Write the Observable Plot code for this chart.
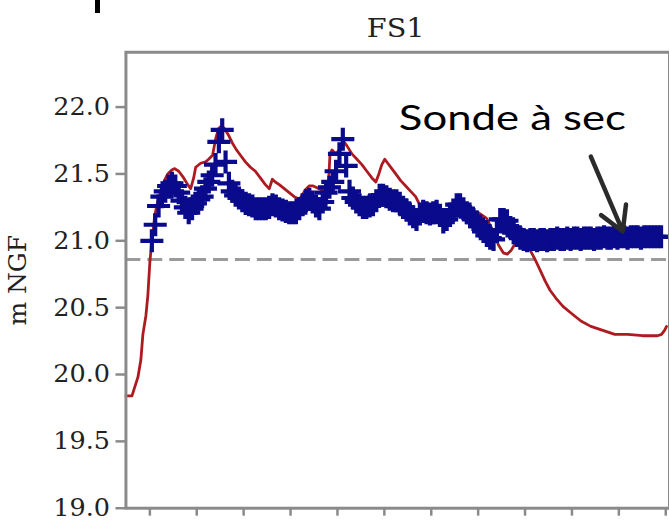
<!DOCTYPE html>
<html><head><meta charset="utf-8">
<script src="https://cdn.jsdelivr.net/npm/d3@7"></script>
<script src="https://cdn.jsdelivr.net/npm/@observablehq/plot@0.6"></script>
<style>
html,body{margin:0;padding:0;background:#fff;overflow:hidden;width:669px;height:521px;}
#wrap{position:relative;width:669px;height:521px;overflow:hidden;}
#mark{position:absolute;left:95px;top:0;width:5px;height:13px;background:#000;}
</style></head><body><div id="wrap"><div id="mark"></div></div>
<script>
const title = "FS1";
const yLabel = "m NGF";
const yTicks = [19.0, 19.5, 20.0, 20.5, 21.0, 21.5, 22.0];
const xTicks = [0, 7, 14, 21, 28, 35, 42, 49, 56, 63, 70, 77];
const referenceLevel = 20.86;

// red series (model), day offset and level in m NGF
const redDays = [-3.57,-2.67,-1.78,-1.34,-1.04,-0.59,-0.30,0,0.30,0.74,1.19,1.63,2.08,2.67,3.27,3.71,4.31,5.05,5.65,6.09,6.54,6.84,7.58,8.32,8.77,9.36,9.81,10.25,10.70,11.14,11.74,12.33,12.93,13.52,14.26,15.01,15.75,16.49,17.24,17.83,18.28,18.72,19.32,20.06,20.80,21.55,22.29,22.73,23.18,23.77,24.37,25.26,26.15,26.60,26.89,27.19,27.79,28.38,28.97,29.42,30.16,30.91,31.65,32.39,33.14,33.73,34.18,34.62,35.07,35.51,36.11,36.70,37.44,38.19,38.93,39.67,40.27,40.71,43.09,45.32,47.55,49.03,50.22,51.26,52.01,52.75,53.34,53.94,54.53,55.27,56.02,56.76,57.50,58.25,58.99,59.73,60.62,61.66,62.85,64.34,65.82,67.61,69.39,71.32,73.55,75.78,76.37,76.82,77.12];
const redValues = [19.84,19.84,19.98,20.11,20.30,20.44,20.59,20.84,21.00,21.19,21.30,21.37,21.44,21.50,21.53,21.54,21.52,21.47,21.42,21.39,21.47,21.55,21.58,21.59,21.61,21.64,21.76,21.84,21.86,21.84,21.79,21.73,21.68,21.64,21.59,21.55,21.52,21.47,21.42,21.39,21.46,21.44,21.42,21.39,21.36,21.33,21.31,21.34,21.38,21.41,21.41,21.39,21.37,21.37,21.65,21.68,21.65,21.69,21.74,21.71,21.65,21.61,21.57,21.52,21.47,21.44,21.50,21.57,21.61,21.58,21.54,21.50,21.45,21.41,21.37,21.33,21.27,21.23,21.21,21.22,21.23,21.21,21.17,21.07,20.97,20.91,20.90,20.93,20.98,21.00,20.98,20.93,20.86,20.78,20.70,20.63,20.57,20.51,20.46,20.40,20.36,20.33,20.30,20.30,20.29,20.29,20.30,20.33,20.36];

// blue series (probe), sampled every half day
const blueStart = 0.3;
const blueStep = 0.5;
const blueValues = [
21.00,21.12,21.26,21.33,21.37,21.41,21.43,21.41,21.36,21.30,
21.25,21.21,21.24,21.28,21.31,21.33,21.39,21.44,21.49,21.57,
21.74,21.83,21.59,21.43,21.37,21.34,21.32,21.30,21.28,21.27,
21.26,21.24,21.24,21.24,21.24,21.25,21.27,21.26,21.24,21.23,
21.22,21.21,21.21,21.21,21.24,21.27,21.30,21.31,21.29,21.26,
21.24,21.29,21.36,21.40,21.44,21.52,21.65,21.76,21.56,21.37,
21.32,21.29,21.27,21.25,21.25,21.26,21.27,21.30,21.34,21.34,
21.33,21.31,21.30,21.30,21.28,21.25,21.23,21.20,21.18,21.16,
21.20,21.22,21.21,21.20,21.21,21.22,21.19,21.14,21.16,21.19,
21.23,21.27,21.27,21.24,21.21,21.18,21.16,21.14,21.11,21.07,
21.04,21.02,21.01,21.07,21.16,21.16,21.15,21.10,21.06,21.04,
21.02,21.01,
21.00,21.01,21.01,21.00,21.01,21.01,21.00,21.01,21.01,21.02,
21.01,21.01,21.02,21.01,21.02,21.02,21.01,21.02,21.02,21.02,
21.01,21.02,21.02,21.03,21.02,21.02,21.03,21.02,21.03,21.03,
21.02,21.03,21.03,21.03,21.02,21.03,21.03,21.03,21.03,21.03,21.03];

const annotationText = ["Sonde à sec"];
const annotationX = [54.1];
const annotationY = [21.91];
const arrowFrom = [[65.82, 21.63]];
const arrowTo = [[70.58, 21.07]];

const red = redDays.map((d, i) => ({day: d, value: redValues[i]}));
const blue = blueValues.map((v, i) => ({day: blueStart + i * blueStep, value: v}));
const annotation = annotationText.map((t, i) => ({label: t, x: annotationX[i], y: annotationY[i]}));
const arrows = arrowFrom.map((f, i) => ({x1: f[0], y1: f[1], x2: arrowTo[i][0], y2: arrowTo[i][1]}));

const serif = "'DejaVu Serif', serif";
const plot = Plot.plot({
  width: 672, height: 521,
  marginTop: 52, marginBottom: 11, marginLeft: 126, marginRight: 0,
  style: {fontFamily: serif, fontSize: "26px", color: "#222", background: "white", overflow: "visible"},
  x: {domain: [-3.57, 77.56]},
  y: {domain: [19, 22.41]},
  marks: [
    Plot.ruleY([referenceLevel], {stroke: "#9a9a9a", strokeWidth: 3, strokeDasharray: "15,7"}),
    Plot.line(red, {x: "day", y: "value", stroke: "#ad1a1f", strokeWidth: 2.8}),
    Plot.dot(blue, {x: "day", y: "value", symbol: "plus", r: 7.5, stroke: "#0a0a8c", strokeWidth: 4.2}),
    Plot.frame({stroke: "#8a8a8a", strokeWidth: 3}),
    Plot.axisY({ticks: yTicks, tickFormat: d3.format(".1f"), tickSize: 10, tickPadding: 6, fontSize: 25, fontFamily: serif, stroke: "#8a8a8a", strokeWidth: 2.5, fill: "#222", label: yLabel, labelAnchor: "center", labelOffset: 118, labelArrow: false}),
    Plot.axisX({ticks: xTicks, tickSize: 8, tickFormat: () => "", stroke: "#8a8a8a", strokeWidth: 2.5, label: null}),
    Plot.text([title], {frameAnchor: "top", lineAnchor: "middle", dy: -24, dx: -2, fontSize: 26, fontFamily: serif, fill: "#222"}),
    Plot.text(annotation, {x: "x", y: "y", text: "label", fontFamily: "Lato", fontSize: 34, fill: "#000"}),
    Plot.arrow(arrows, {x1: "x1", y1: "y1", x2: "x2", y2: "y2", stroke: "#2b2b2b", strokeWidth: 4.5, headLength: 22})
  ]
});
// the reference lettering is wide; fit texts to the widths seen in it
const svg = d3.select(plot);
svg.selectAll("text").each(function() {
  const t = this.textContent;
  const sel = d3.select(this);
  if (t === annotationText[0]) sel.attr("textLength", 228).attr("lengthAdjust", "spacingAndGlyphs");
  else if (t === title) sel.attr("textLength", 58).attr("lengthAdjust", "spacingAndGlyphs");
  else if (yTicks.map(d3.format(".1f")).includes(t)) sel.attr("textLength", 57).attr("lengthAdjust", "spacingAndGlyphs");
});
document.getElementById("wrap").appendChild(plot);
</script>
</body></html>
